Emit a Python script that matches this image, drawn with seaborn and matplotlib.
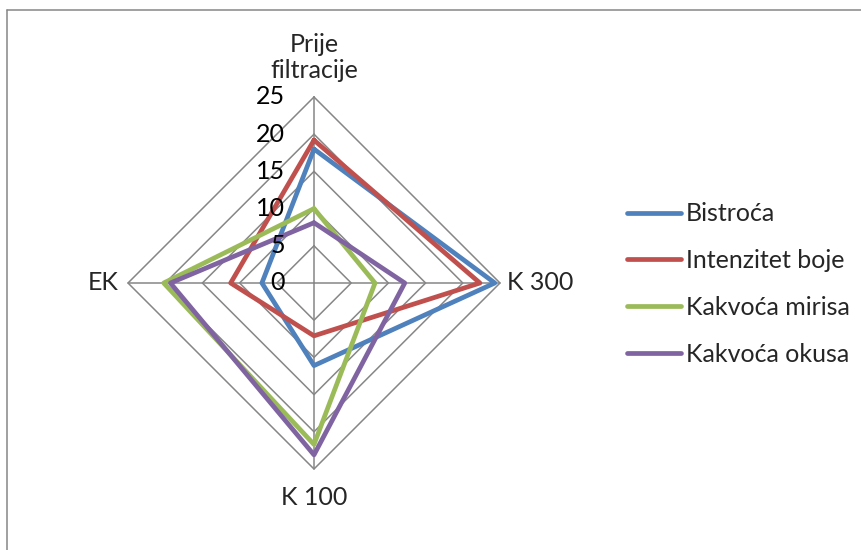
import numpy as np
import pandas as pd
import seaborn as sns
import matplotlib.pyplot as plt
from matplotlib.lines import Line2D

# Podaci s radarskog grafikona (ocjene po uzorku)
kategorije = ['Prije\nfiltracije', 'K 300', 'K 100', 'EK']
serije = ['Bistroća', 'Intenzitet boje', 'Kakvoća mirisa', 'Kakvoća okusa']
bistroca = [18, 24.3, 11.1, 7]
intenzitet_boje = [19.2, 22.3, 7.1, 11.2]
kakvoca_mirisa = [10, 8.2, 21.7, 20.2]
kakvoca_okusa = [8.1, 12.2, 23.1, 19.3]
razine = [0, 5, 10, 15, 20, 25]
boje = ['#4F81BD', '#C0504D', '#9BBB59', '#8064A2']

sns.set_style('white')
plt.rcParams['font.family'] = ['Lato', 'DejaVu Sans']
fs = 18

# kutovi osi: od vrha u smjeru kazaljke na satu
kutovi = np.pi / 2 - np.arange(len(kategorije)) * 2 * np.pi / len(kategorije)

redovi = []
for ime, vrijednosti in zip(serije, [bistroca, intenzitet_boje, kakvoca_mirisa, kakvoca_okusa]):
    for i in list(range(len(kategorije))) + [0]:
        redovi.append({'Serija': ime,
                       'x': vrijednosti[i] * np.cos(kutovi[i]),
                       'y': vrijednosti[i] * np.sin(kutovi[i])})
df = pd.DataFrame(redovi)

fig = plt.figure(figsize=(8.61, 5.5), dpi=100)
ax = fig.add_axes([0, 0, 1, 1])
px = 7.44  # piksela po jedinici
ax.set_xlim(-314 / px, (861 - 314) / px)
ax.set_ylim(-(550 - 283) / px, 283 / px)
ax.axis('off')

siva = '#868686'
# mreža (rombovi) i osi
for r in razine[1:]:
    gx = [r * np.cos(k) for k in kutovi] + [r * np.cos(kutovi[0])]
    gy = [r * np.sin(k) for k in kutovi] + [r * np.sin(kutovi[0])]
    ax.plot(gx, gy, color=siva, lw=1.1, zorder=1)
for k in kutovi:
    ax.plot([0, razine[-1] * np.cos(k)], [0, razine[-1] * np.sin(k)], color=siva, lw=1.1, zorder=1)

sns.lineplot(data=df, x='x', y='y', hue='Serija', palette=boje, sort=False,
             estimator=None, lw=3.4, ax=ax, zorder=3)

# oznake vrijednosti
for r in razine:
    ax.text(-29 / px, r, str(r), ha='right', va='center', fontsize=fs, color='black')

# nazivi kategorija
ax.text(0, 30.3, kategorije[0], ha='center', va='center', fontsize=fs, linespacing=1.15)
ax.text(25.9, 0, kategorije[1], ha='left', va='center', fontsize=fs)
ax.text(0, -28.8, kategorije[2], ha='center', va='center', fontsize=fs)
ax.text(-26.3, 0, kategorije[3], ha='right', va='center', fontsize=fs)

leg = ax.get_legend()
handles = leg.legend_handles
labels = [t.get_text() for t in leg.get_texts()]
ax.legend(handles, labels, loc='center left', bbox_to_anchor=(627 / 861, 266 / 550),
          bbox_transform=fig.transFigure, frameon=False, fontsize=fs, borderpad=0,
          borderaxespad=0, handlelength=2.15, handletextpad=0.2, labelspacing=0.95)

# okvir grafikona (odrezan)
fig.add_artist(Line2D([7 / 861, 7 / 861], [0, 540 / 550], color=siva, lw=1.1))
fig.add_artist(Line2D([7 / 861, 1], [540 / 550, 540 / 550], color=siva, lw=1.1))

fig.savefig('out.png', dpi=100)
